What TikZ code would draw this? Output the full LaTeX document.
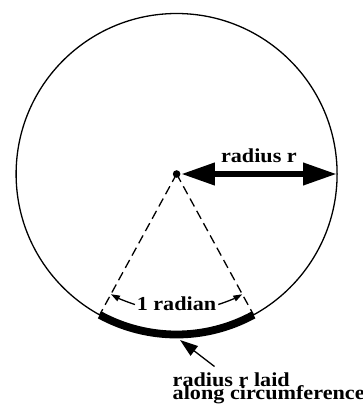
\documentclass[tikz,border=0pt]{standalone}
\usepackage{fontspec}
\setmainfont[FakeStretch=1.12]{Liberation Serif}
\usetikzlibrary{arrows.meta}
\begin{document}
\begin{tikzpicture}[x=1pt,y=-1pt,
  lbl/.style={font=\fontsize{19.8}{19.8}\selectfont\bfseries, inner sep=0pt, anchor=base},
  thin line/.style={line width=1.3pt},
  dashline/.style={line width=1.3pt, dash pattern=on 9pt off 5pt},
  small arrow/.style={line width=1.3pt, -{Triangle[length=9pt,width=6pt]}},
  radarrow/.style={line width=6.7pt, {Triangle[length=34pt,width=21pt]}-{Triangle[length=34pt,width=21pt]}}]
\useasboundingbox (0,0) rectangle (362,404);
\coordinate (C) at (176.6,174);
\coordinate (A) at (99.64,314.86);
\coordinate (B) at (253.56,314.86);
\coordinate (E) at (337.1,174);
\coordinate (S) at (180.8,174);
% circle
\draw[thin line] (C) circle[radius=160.5];
% dashed radii
\draw[dashline] (C) -- (A);
\draw[dashline] (C) -- (B);
% thick arc
\draw[line width=7.8pt, line cap=butt] (A) arc[start angle=118.65, end angle=61.35, radius=160.5];
% center dot
\fill (C) circle[radius=3.8];
% radius arrow
\draw[radarrow] (S) -- (E);
\node[lbl] (rad) at (258.9,162.3) {radius r};
% angle label
\node[lbl] (ang) at (176.5,310) {1 radian};
\coordinate (L1) at (134.95,304.5);
\coordinate (R1) at (218.25,304.5);
\draw[small arrow] (L1) arc[start angle=107.7, end angle=118.65, radius=137];
\draw[small arrow] (R1) arc[start angle=72.3, end angle=61.35, radius=137];
% pointer
\node[lbl, anchor=base west] (t1) at (172.5,386.5) {radius r laid};
\node[lbl, anchor=base west] (t2) at (172.5,399) {along circumference};
\coordinate (P1) at (214.5,366.5);
\coordinate (P2) at (180,340);
\draw[line width=1.3pt, -{Triangle[length=18pt,width=12pt]}] (P1) -- (P2);
\end{tikzpicture}
\end{document}
